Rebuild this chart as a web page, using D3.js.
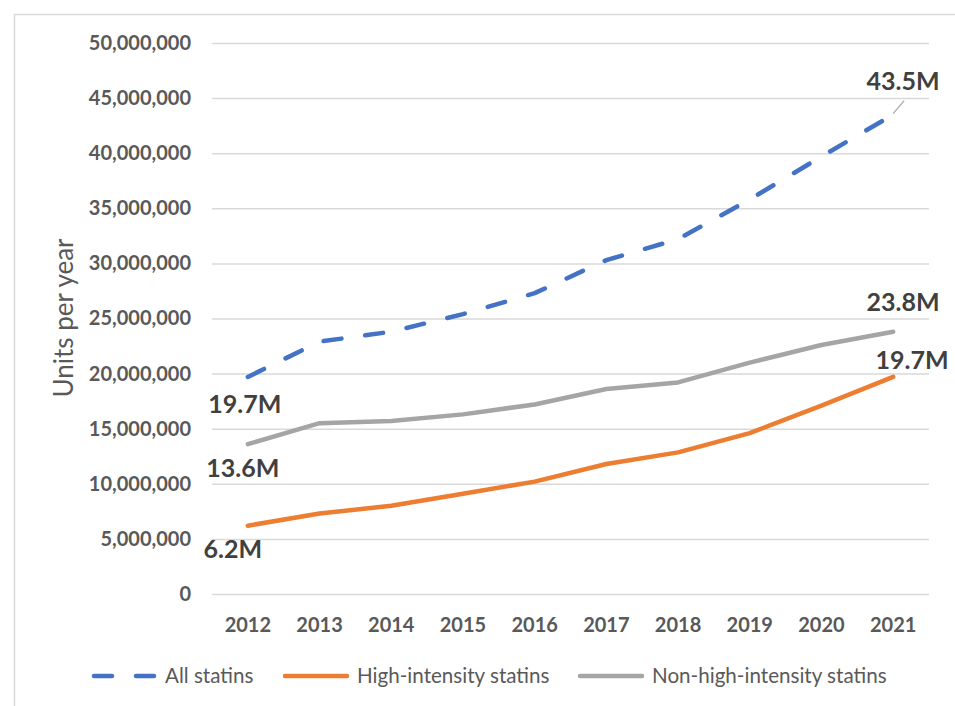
<!DOCTYPE html>
<html>
<head>
<meta charset="utf-8">
<script src="https://cdn.jsdelivr.net/npm/d3@7"></script>
<style>
  html, body { margin: 0; padding: 0; background: #fff; }
  svg { display: block; }
  text { font-family: Lato, "Open Sans", sans-serif; }
</style>
</head>
<body>
<svg id="chart" width="955" height="706"></svg>
<script>
// Statin units dispensed per year
const years = ["2012", "2013", "2014", "2015", "2016", "2017", "2018", "2019", "2020", "2021"];
const allStatins = [19.7, 22.9, 23.8, 25.4, 27.3, 30.3, 32.2, 35.8, 39.7, 43.5].map(v => v * 1e6);
const highIntensity = [6.2, 7.3, 8.0, 9.1, 10.2, 11.8, 12.85, 14.6, 17.1, 19.7].map(v => v * 1e6);
const nonHighIntensity = [13.6, 15.5, 15.7, 16.3, 17.2, 18.6, 19.2, 21.0, 22.6, 23.8].map(v => v * 1e6);
const yTicks = [0, 5e6, 10e6, 15e6, 20e6, 25e6, 30e6, 35e6, 40e6, 45e6, 50e6];
const seriesNames = ["All statins", "High-intensity statins", "Non-high-intensity statins"];

const svg = d3.select("#chart");
const W = 955, H = 706;
const plot = { left: 212, right: 929, top: 43, bottom: 594 };

// Outer frame (top and left edges visible)
svg.append("path")
  .attr("d", `M14.5,${H} V14.5 H${W}`)
  .attr("fill", "none")
  .attr("stroke", "#d9d9d9")
  .attr("stroke-width", 1.5);

const x = d3.scaleBand().domain(years).range([plot.left, plot.right]);
const y = d3.scaleLinear().domain([0, 50e6]).range([plot.bottom, plot.top]);
const cx = d => x(d) + x.bandwidth() / 2;

// Horizontal gridlines
svg.append("g")
  .attr("transform", `translate(${plot.left},0)`)
  .call(d3.axisLeft(y).tickValues(yTicks).tickSize(-(plot.right - plot.left)).tickFormat(""))
  .call(g => g.select(".domain").remove())
  .call(g => g.selectAll("line").attr("stroke", "#d9d9d9").attr("stroke-width", 1.5));

// Y axis labels
svg.append("g")
  .attr("transform", `translate(${plot.left},0)`)
  .call(d3.axisLeft(y).tickValues(yTicks).tickSize(0).tickPadding(21).tickFormat(d3.format(",")))
  .call(g => g.select(".domain").remove())
  .call(g => g.selectAll("text")
    .attr("font-family", "Lato, sans-serif")
    .attr("font-size", 20)
    .attr("font-weight", 700)
    .attr("fill", "#595959"));

// X axis labels
svg.append("g")
  .attr("transform", `translate(0,${plot.bottom})`)
  .call(d3.axisBottom(x).tickSize(0).tickPadding(24))
  .call(g => g.select(".domain").remove())
  .call(g => g.selectAll("text")
    .attr("font-family", "Lato, sans-serif")
    .attr("font-size", 20)
    .attr("font-weight", 700)
    .attr("fill", "#595959"));

// Y axis title
svg.append("text")
  .attr("transform", "translate(64,318) rotate(-90)")
  .attr("text-anchor", "middle")
  .attr("dy", "0.35em")
  .attr("font-size", 26)
  .attr("fill", "#595959")
  .text("Units per year");

const series = [
  { name: seriesNames[0], values: allStatins, color: "#4472C4", dash: "18 24" },
  { name: seriesNames[1], values: highIntensity, color: "#ED7D31", dash: null },
  { name: seriesNames[2], values: nonHighIntensity, color: "#A5A5A5", dash: null }
];

const line = d3.line()
  .x((d, i) => cx(years[i]))
  .y(d => y(d));

// Draw solid series first, dashed total on top
[series[2], series[1], series[0]].forEach(s => {
  svg.append("path")
    .datum(s.values)
    .attr("d", line)
    .attr("fill", "none")
    .attr("stroke", s.color)
    .attr("stroke-width", 4.5)
    .attr("stroke-linecap", "round")
    .attr("stroke-linejoin", "round")
    .attr("stroke-dasharray", s.dash);
});

// Endpoint value labels
const fmtM = v => (v / 1e6).toFixed(1) + "M";
const last = years.length - 1;
const labels = [
  { s: series[0], i: 0, dx: -3, dy: 27 },
  { s: series[2], i: 0, dx: -5, dy: 24 },
  { s: series[1], i: 0, dx: -15, dy: 24 },
  { s: series[0], i: last, dx: 10, dy: -33 },
  { s: series[2], i: last, dx: 10, dy: -29 },
  { s: series[1], i: last, dx: 19, dy: -17 }
];
labels.forEach(l => {
  svg.append("text")
    .attr("x", cx(years[l.i]) + l.dx)
    .attr("y", y(l.s.values[l.i]) + l.dy)
    .attr("dy", "0.35em")
    .attr("text-anchor", "middle")
    .attr("font-size", 25)
    .attr("font-weight", 700)
    .attr("fill", "#404040")
    .text(fmtM(l.s.values[l.i]));
});

// Leader line for the 2021 total label
{
  const px = cx(years[last]), py = y(allStatins[last]);
  svg.append("line")
    .attr("x1", px).attr("y1", py - 1)
    .attr("x2", px + 11).attr("y2", py - 14)
    .attr("stroke", "#a6a6a6")
    .attr("stroke-width", 1.2);
}

// Legend
const legendY = 676;
const legendItems = [
  { s: series[0], x0: 94, textX: 165 },
  { s: series[1], x0: 285, textX: 357 },
  { s: series[2], x0: 580, textX: 652 }
];
legendItems.forEach(it => {
  svg.append("line")
    .attr("x1", it.x0).attr("x2", it.x0 + 62)
    .attr("y1", legendY).attr("y2", legendY)
    .attr("stroke", it.s.color)
    .attr("stroke-width", 4.5)
    .attr("stroke-linecap", "round")
    .attr("stroke-dasharray", it.s.dash);
  svg.append("text")
    .attr("x", it.textX)
    .attr("y", legendY)
    .attr("dy", "0.35em")
    .attr("font-size", 20.6)
    .attr("fill", "#595959")
    .text(it.s.name);
});
</script>
</body>
</html>
